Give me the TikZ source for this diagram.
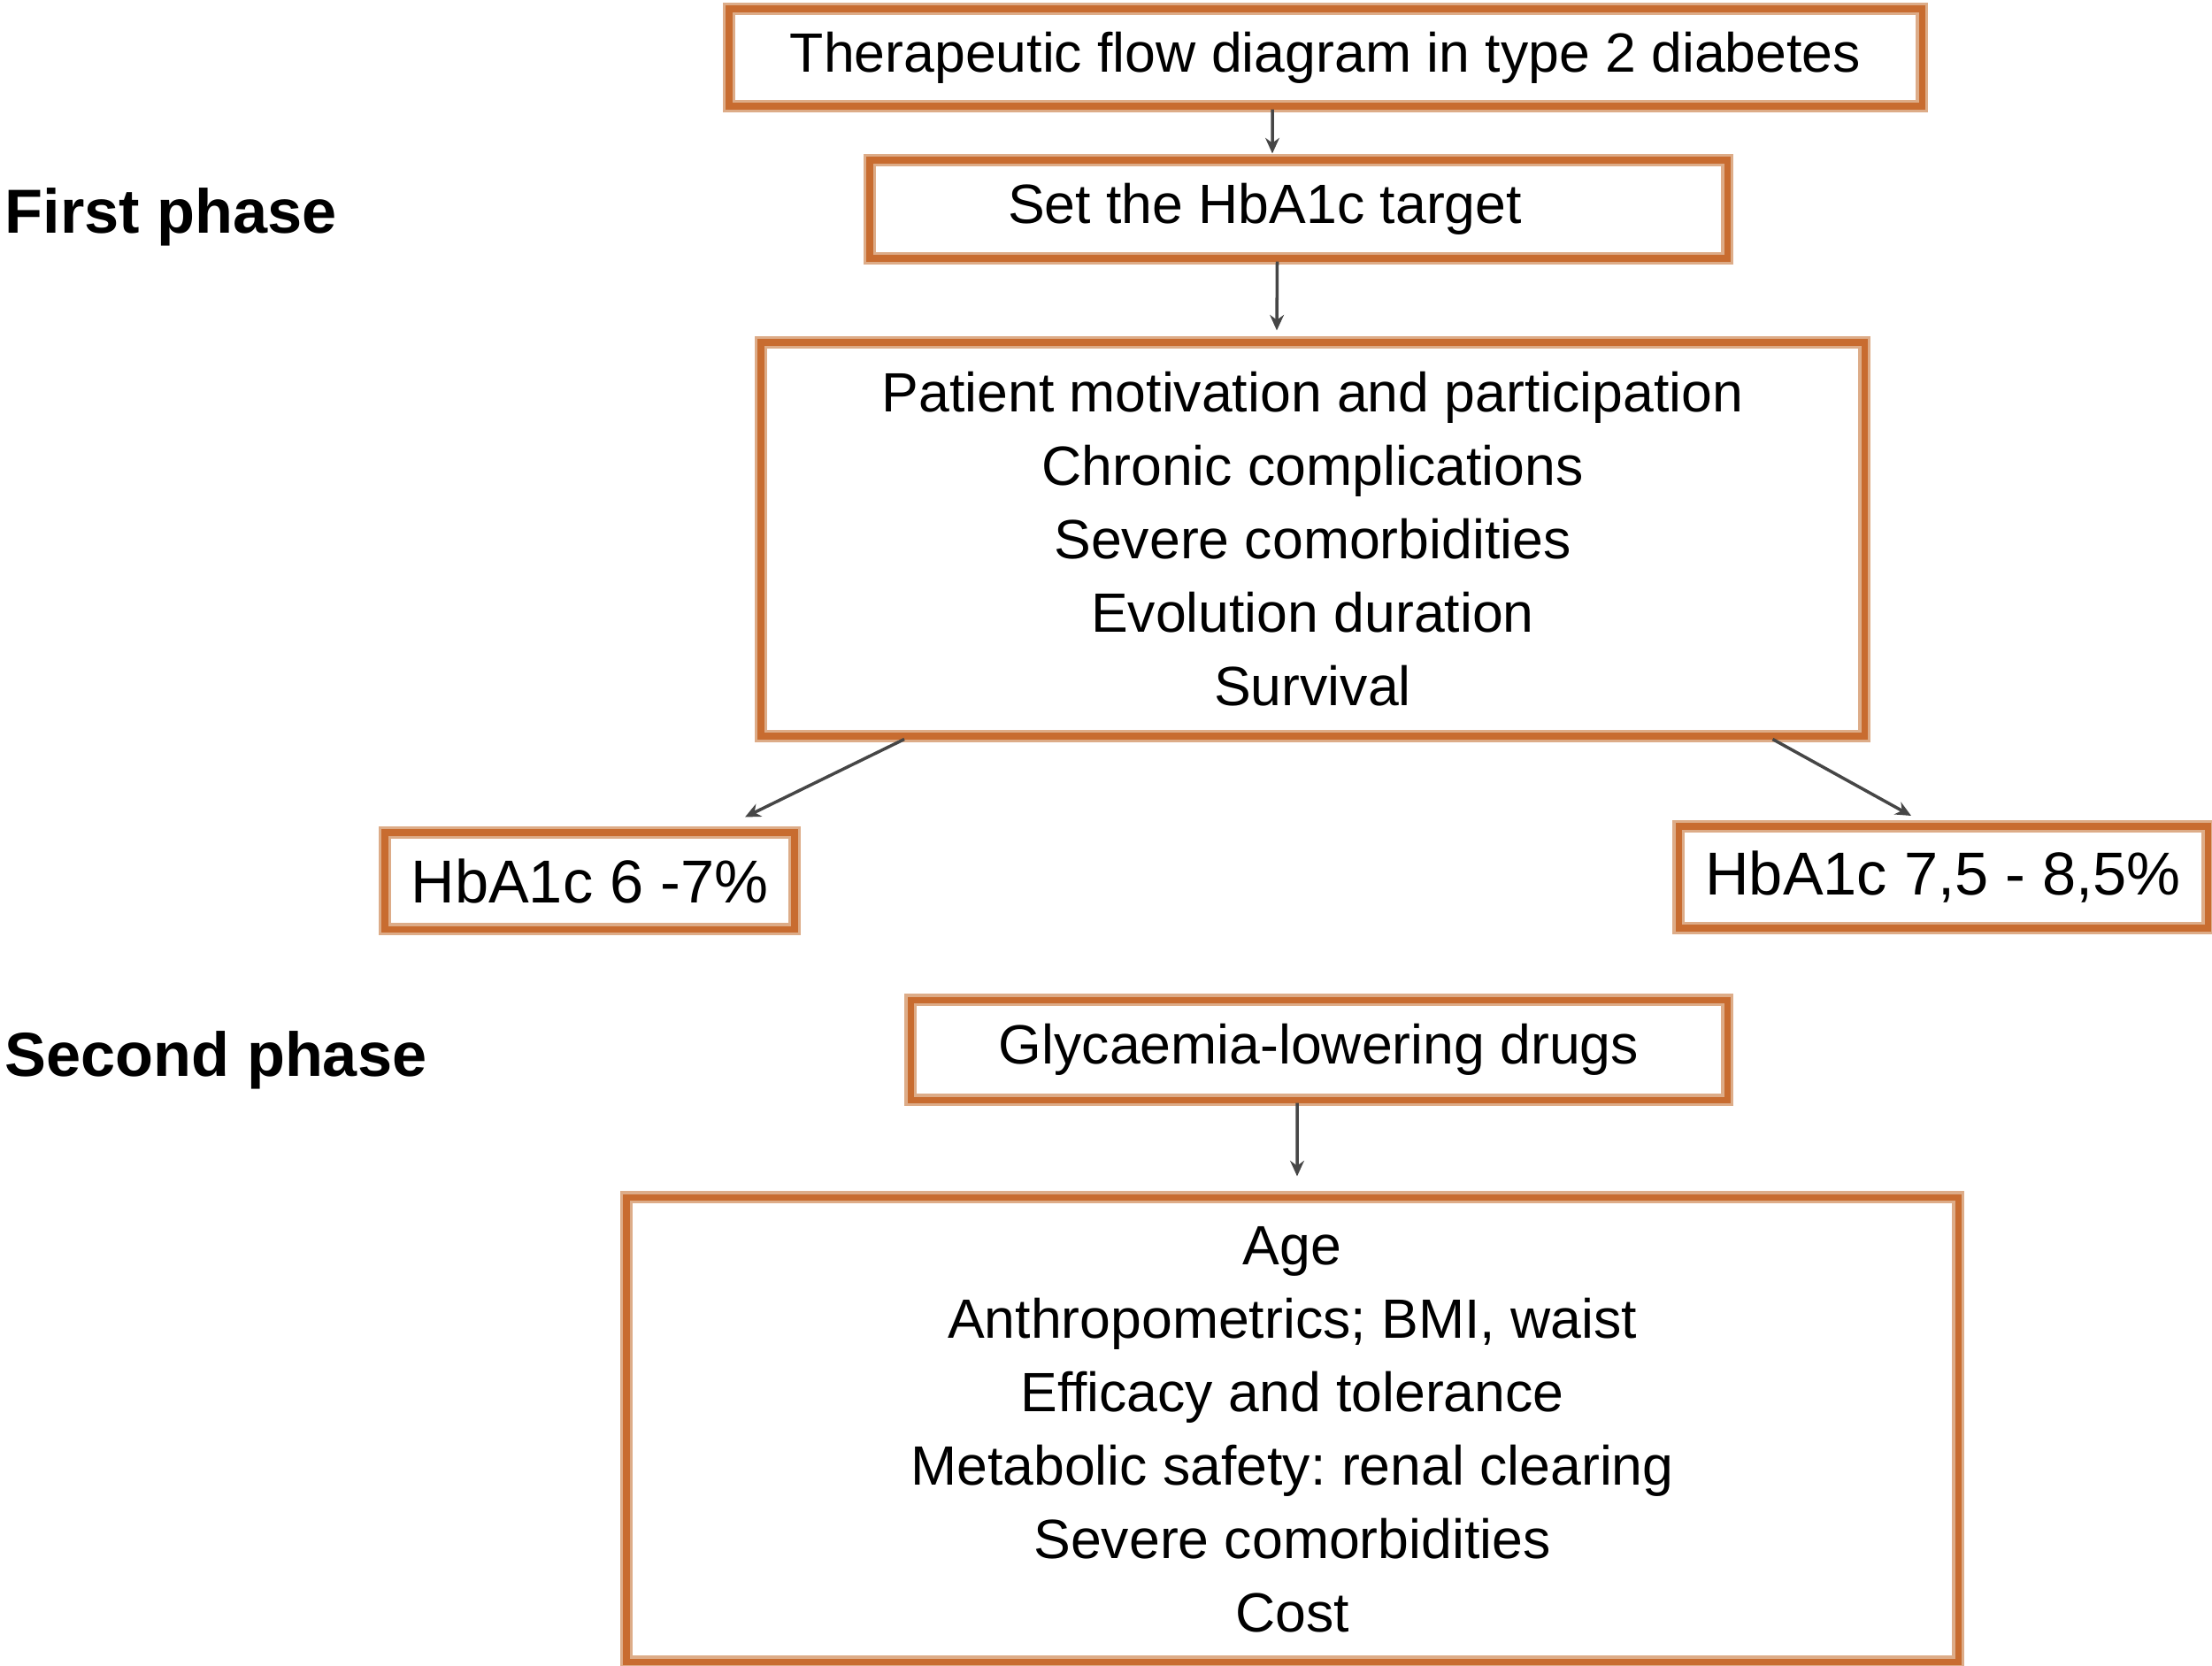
\documentclass[tikz,border=0pt]{standalone}
\usepackage{fontspec}
\setmainfont{Liberation Sans}
\frenchspacing
\usetikzlibrary{arrows.meta}
\definecolor{boxorange}{RGB}{200,108,48}
\definecolor{boxtan}{RGB}{221,172,136}
\definecolor{arrowgray}{RGB}{70,70,70}

\begin{document}
\begin{tikzpicture}[
        box/.style = {draw=boxorange, line width=2pt, preaction={draw=boxtan, line width=4.2pt},
            inner sep=0pt, align=center, font=\fontsize{17.8}{23.6}\selectfont},
        hbbox/.style = {box, font=\fontsize{19.5}{23}\selectfont},
        phase/.style = {font=\fontsize{20}{24}\selectfont\bfseries, inner sep=0pt, anchor=base west},
        arr/.style = {draw=arrowgray, line width=1pt, -{Stealth[length=5pt, width=4.5pt]}}
    ]
        \useasboundingbox (0, 0) rectangle (25, -18.82);

        \node[box, minimum width=13.48cm, minimum height=1.10cm] (title) at (14.98, -0.65)
            {Therapeutic flow diagram in type 2 diabetes};
        \node[box, minimum width=9.69cm, minimum height=1.11cm] (target) at (14.675, -2.365)
            {Set the HbA1c target\hspace*{7.6mm}};
        \node[box, minimum width=12.47cm, minimum height=4.45cm] (factorsA) at (14.835, -6.095)
            {Patient motivation and participation\\ Chronic complications\\ Severe comorbidities\\
             Evolution duration\\ Survival};
        \node[hbbox, minimum width=4.63cm, minimum height=1.09cm] (hblow) at (6.665, -9.955)
            {HbA1c 6 -7\%};
        \node[hbbox, minimum width=5.98cm, minimum height=1.15cm] (hbhigh) at (21.96, -9.915)
            {HbA1c 7,5 - 8,5\%};
        \node[box, minimum width=9.23cm, minimum height=1.13cm] (drugs) at (14.905, -11.865)
            {Glycaemia-lowering drugs};
        \node[box, minimum width=15.05cm, minimum height=5.25cm] (factorsB) at (14.605, -16.155)
            {Age\\ Anthropometrics; BMI, waist\\ Efficacy and tolerance\\
             Metabolic safety: renal clearing\\ Severe comorbidities\\ Cost};

        \node[phase] (first) at (0.05, -2.63) {First phase};
        \node[phase] (second) at (0.05, -12.16) {Second phase};

        \draw[arr] ([xshift=-6mm]title.south) -- ([xshift=-2.95mm, yshift=0.4mm]target.north);
        \draw[arr] ([xshift=-2.4mm]target.south) -- ([xshift=-4.05mm, yshift=1mm]factorsA.north);
        \draw[arr] ([xshift=-46.15mm]factorsA.south) -- ([xshift=17.55mm, yshift=1.4mm]hblow.north);
        \draw[arr] ([xshift=52mm]factorsA.south) -- ([xshift=-3.6mm, yshift=0.85mm]hbhigh.north);
        \draw[arr] ([xshift=-2.45mm]drugs.south) -- ([xshift=0.55mm, yshift=2mm]factorsB.north);

    \end{tikzpicture}
\end{document}
